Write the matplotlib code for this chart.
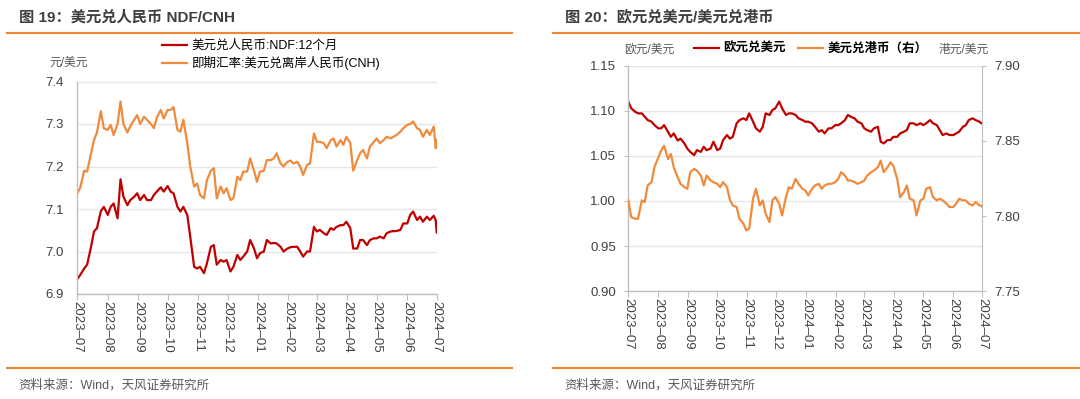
import matplotlib
matplotlib.use("Agg")
import matplotlib.pyplot as plt
from matplotlib.lines import Line2D
import numpy as np
import pandas as pd

plt.rcParams['font.family'] = ['Liberation Sans', 'Noto Sans CJK SC']
plt.rcParams['axes.unicode_minus'] = False

# sample dates (shared by both panels)
dates = ["2023-07-01", "2023-07-04", "2023-07-08", "2023-07-11", "2023-07-15", "2023-07-18", "2023-07-21", "2023-07-25", "2023-07-28",
         "2023-08-01", "2023-08-04", "2023-08-07", "2023-08-11", "2023-08-14", "2023-08-17", "2023-08-21", "2023-08-24", "2023-08-28", "2023-08-31",
         "2023-09-03", "2023-09-07", "2023-09-10", "2023-09-14", "2023-09-17", "2023-09-20", "2023-09-24", "2023-09-27",
         "2023-10-01", "2023-10-04", "2023-10-07", "2023-10-11", "2023-10-14", "2023-10-17", "2023-10-21", "2023-10-24", "2023-10-28", "2023-10-31",
         "2023-11-03", "2023-11-07", "2023-11-10", "2023-11-14", "2023-11-17", "2023-11-20", "2023-11-24", "2023-11-27", "2023-11-30",
         "2023-12-04", "2023-12-07", "2023-12-11", "2023-12-14", "2023-12-17", "2023-12-21", "2023-12-24", "2023-12-28", "2023-12-31",
         "2024-01-03", "2024-01-07", "2024-01-10", "2024-01-14", "2024-01-17", "2024-01-20", "2024-01-24", "2024-01-27", "2024-01-31",
         "2024-02-03", "2024-02-06", "2024-02-10", "2024-02-13", "2024-02-16", "2024-02-20", "2024-02-23", "2024-02-27",
         "2024-03-01", "2024-03-04", "2024-03-08", "2024-03-11", "2024-03-15", "2024-03-18", "2024-03-21", "2024-03-25", "2024-03-28", "2024-03-31",
         "2024-04-04", "2024-04-07", "2024-04-11", "2024-04-14", "2024-04-17", "2024-04-21", "2024-04-24", "2024-04-28",
         "2024-05-01", "2024-05-04", "2024-05-08", "2024-05-11", "2024-05-15", "2024-05-18", "2024-05-21", "2024-05-25", "2024-05-28",
         "2024-06-01", "2024-06-04", "2024-06-07", "2024-06-11", "2024-06-14", "2024-06-17", "2024-06-21", "2024-06-24", "2024-06-28",
         "2024-06-30", "2024-07-01"]

# 图19: 美元兑人民币 NDF 12个月 / CNH
ndf = [6.935, 6.945, 6.96, 6.969, 7.011, 7.047, 7.055, 7.095, 7.105, 7.086,
       7.105, 7.113, 7.078, 7.17, 7.129, 7.109, 7.121, 7.129, 7.137, 7.121,
       7.133, 7.121, 7.121, 7.133, 7.141, 7.151, 7.141, 7.154, 7.141, 7.137,
       7.105, 7.094, 7.105, 7.086, 7.035, 6.964, 6.960, 6.964, 6.949, 6.972,
       7.011, 7.015, 6.969, 6.98, 6.976, 6.98, 6.953, 6.964, 6.992, 6.98,
       6.988, 7.0, 7.027, 7.007, 6.984, 6.996, 7.0, 7.027, 7.019, 7.02,
       7.019, 7.011, 7.0, 7.007, 7.01, 7.011, 7.011, 7.0, 6.988, 7.0,
       7.0, 7.058, 7.047, 7.051, 7.043, 7.039, 7.055, 7.051, 7.058, 7.062,
       7.062, 7.07, 7.055, 7.007, 7.007, 7.027, 7.027, 7.015, 7.027, 7.031,
       7.031, 7.035, 7.031, 7.043, 7.047, 7.048, 7.048, 7.051, 7.066, 7.066,
       7.086, 7.094, 7.074, 7.082, 7.07, 7.082, 7.074, 7.084, 7.074, 7.045]
cnh = [7.137, 7.15, 7.19, 7.188, 7.231, 7.262, 7.28, 7.33, 7.29, 7.286,
       7.298, 7.274, 7.30, 7.353, 7.30, 7.28, 7.295, 7.31, 7.321, 7.30,
       7.317, 7.31, 7.30, 7.29, 7.315, 7.333, 7.313, 7.333, 7.333, 7.34,
       7.286, 7.282, 7.31, 7.255, 7.20, 7.153, 7.16, 7.133, 7.125, 7.168,
       7.19, 7.196, 7.125, 7.153, 7.137, 7.149, 7.121, 7.125, 7.176, 7.168,
       7.188, 7.188, 7.219, 7.19, 7.164, 7.188, 7.19, 7.215, 7.215, 7.219,
       7.231, 7.207, 7.20, 7.211, 7.214, 7.207, 7.211, 7.20, 7.18, 7.204,
       7.207, 7.278, 7.258, 7.258, 7.255, 7.243, 7.262, 7.266, 7.247, 7.262,
       7.251, 7.27, 7.255, 7.19, 7.215, 7.231, 7.239, 7.219, 7.247, 7.258,
       7.266, 7.255, 7.262, 7.27, 7.266, 7.27, 7.274, 7.282, 7.29, 7.298,
       7.30, 7.306, 7.29, 7.286, 7.27, 7.286, 7.274, 7.294, 7.243, 7.262]

# 图20: 欧元兑美元 / 美元兑港币(右)
eur = [1.110, 1.1026, 1.0989, 1.097, 1.097, 1.0933, 1.0896, 1.0878, 1.084, 1.0804,
       1.0804, 1.084, 1.0767, 1.071, 1.0748, 1.067, 1.069, 1.0637, 1.058, 1.0544,
       1.0507, 1.0563, 1.0544, 1.06, 1.0563, 1.058, 1.0656, 1.0563, 1.058, 1.0674,
       1.073, 1.069, 1.071, 1.086, 1.0896, 1.0915, 1.0896, 1.097, 1.0878, 1.0804,
       1.0767, 1.0822, 1.097, 1.0952, 1.1007, 1.1026, 1.11, 1.1026, 1.0952, 1.097,
       1.097, 1.0952, 1.0915, 1.0896, 1.0878, 1.0878, 1.086, 1.0822, 1.0767, 1.0785,
       1.0748, 1.0804, 1.0804, 1.084, 1.084, 1.086, 1.0896, 1.0952, 1.0933, 1.0915,
       1.0878, 1.086, 1.0804, 1.0785, 1.0767, 1.0804, 1.0822, 1.0656, 1.0637, 1.0674,
       1.0674, 1.071, 1.071, 1.0748, 1.0767, 1.0785, 1.086, 1.086, 1.084, 1.086,
       1.084, 1.086, 1.0896, 1.086, 1.084, 1.0785, 1.073, 1.0748, 1.073, 1.073,
       1.0748, 1.0767, 1.0822, 1.084, 1.0896, 1.0915, 1.0896, 1.0878, 1.086, 1.086]
hkd = [7.8104, 7.7993, 7.7982, 7.7982, 7.8104, 7.8093, 7.8203, 7.8225, 7.8324, 7.839,
       7.8434, 7.8467, 7.8379, 7.8412, 7.8324, 7.8258, 7.8214, 7.8192, 7.8181, 7.8291,
       7.8313, 7.8302, 7.8269, 7.8203, 7.8269, 7.8236, 7.8225, 7.8214, 7.8192, 7.8225,
       7.8192, 7.811, 7.807, 7.806, 7.798, 7.795, 7.7905, 7.7916, 7.8115, 7.8181,
       7.807, 7.8104, 7.8015, 7.796, 7.8104, 7.8126, 7.8082, 7.8004, 7.8126, 7.8192,
       7.8181, 7.8247, 7.8214, 7.8181, 7.817, 7.8137, 7.8181, 7.8203, 7.8214, 7.8181,
       7.8203, 7.8214, 7.8214, 7.8225, 7.8247, 7.8291, 7.8269, 7.8236, 7.8236, 7.8225,
       7.8214, 7.8225, 7.8236, 7.8269, 7.8291, 7.8302, 7.8324, 7.8368, 7.8291, 7.8324,
       7.8357, 7.8335, 7.8247, 7.8126, 7.8159, 7.8203, 7.8115, 7.8104, 7.8004, 7.8104,
       7.8115, 7.8181, 7.8192, 7.8126, 7.8104, 7.8115, 7.8104, 7.8082, 7.806, 7.806,
       7.8082, 7.8115, 7.8104, 7.8104, 7.8082, 7.807, 7.8093, 7.807, 7.807, 7.806]

month_ticks = ["2023-07", "2023-08", "2023-09", "2023-10", "2023-11", "2023-12", "2024-01",
               "2024-02", "2024-03", "2024-04", "2024-05", "2024-06", "2024-07"]

RED = '#C00000'
ORANGE = '#F08A3C'
SEP = '#F0862F'
GRID = '#E6E6E6'
SPINE = '#BFBFBF'
TXT = '#404040'

x = pd.to_datetime(dates)
tick_pos = pd.to_datetime(month_ticks)
tick_lab = [m.replace('-', '–') for m in month_ticks]

fig = plt.figure(figsize=(10.8, 3.99), dpi=100)
W, H = 1080, 399


def style_axes(ax):
    ax.set_xlim(tick_pos[0], tick_pos[-1])
    ax.set_xticks(tick_pos)
    ax.set_xticklabels(tick_lab, rotation=270, fontsize=9.5, color=TXT)
    ax.tick_params(axis='x', direction='out', length=4, width=0.8, color=SPINE, pad=1)
    ax.grid(axis='y', color=GRID, linewidth=1)
    ax.set_axisbelow(True)
    for s in ['top', 'right']:
        ax.spines[s].set_visible(False)
    for s in ['left', 'bottom']:
        ax.spines[s].set_color(SPINE)
        ax.spines[s].set_linewidth(1)


# ---- left panel ----
axl = fig.add_axes([77.3 / W, 1 - 294 / H, 359.4 / W, 212.5 / H])
l1, = axl.plot(x, ndf, color=RED, lw=1.6, label='美元兑人民币:NDF:12个月')
l2, = axl.plot(x, cnh, color=ORANGE, lw=1.6, label='即期汇率:美元兑离岸人民币(CNH)')
style_axes(axl)
axl.set_ylim(6.9, 7.4)
axl.set_yticks([6.9, 7.0, 7.1, 7.2, 7.3, 7.4])
axl.set_yticklabels(['6.9', '7.0', '7.1', '7.2', '7.3', '7.4'], fontsize=9.5, color=TXT)
axl.tick_params(axis='y', length=0, pad=10)

fig.legend(handles=[l1, l2], loc='center left', bbox_to_anchor=(162 / W, 1 - 55 / H),
           frameon=False, fontsize=9, handlelength=2.0, handletextpad=0.35,
           labelspacing=0.3, borderpad=0, borderaxespad=0)
fig.text(69 / W, 1 - 63 / H, '元/美元', fontsize=8.5, color='#595959', ha='center', va='center')

# ---- right panel ----
axr = fig.add_axes([628.3 / W, 1 - 291.3 / H, 354 / W, 225.8 / H])
r1, = axr.plot(x, eur, color=RED, lw=1.6, label='欧元兑美元')
style_axes(axr)
axr.set_ylim(0.90, 1.15)
axr.set_yticks([0.90, 0.95, 1.00, 1.05, 1.10, 1.15])
axr.set_yticklabels(['0.90', '0.95', '1.00', '1.05', '1.10', '1.15'], fontsize=9.5, color=TXT)
axr.tick_params(axis='y', length=3, color=SPINE, pad=6)

axr2 = axr.twinx()
r2, = axr2.plot(x, hkd, color=ORANGE, lw=1.6, label='美元兑港币（右）')
axr2.set_ylim(7.75, 7.90)
axr2.set_yticks([7.75, 7.80, 7.85, 7.90])
axr2.set_yticklabels(['7.75', '7.80', '7.85', '7.90'], fontsize=9.5, color=TXT)
axr2.tick_params(axis='y', length=3, color=SPINE, pad=6)
for s in ['top', 'left', 'bottom']:
    axr2.spines[s].set_visible(False)
axr2.spines['right'].set_color(SPINE)
axr2.set_xlim(tick_pos[0], tick_pos[-1])

fig.legend(handles=[r1, r2], loc='center left', bbox_to_anchor=(694 / W, 1 - 49 / H), ncol=2,
           frameon=False, prop={'size': 9, 'weight': 'bold'}, handlelength=2.0,
           handletextpad=0.35, columnspacing=1.0, borderpad=0, borderaxespad=0)
fig.text(649 / W, 1 - 50 / H, '欧元/美元', fontsize=8.5, color='#595959', ha='center', va='center')
fig.text(964 / W, 1 - 50 / H, '港元/美元', fontsize=8.5, color='#595959', ha='center', va='center')

# ---- titles, separators, sources ----
fig.text(19 / W, 1 - 17 / H, '图 19：美元兑人民币 NDF/CNH', fontsize=11, fontweight='bold',
         color='#3F3F3F', ha='left', va='center')
fig.text(565 / W, 1 - 17 / H, '图 20：欧元兑美元/美元兑港币', fontsize=11, fontweight='bold',
         color='#3F3F3F', ha='left', va='center')
for x0, x1 in [(7, 512), (553, 1080)]:
    for yy in [33, 368]:
        fig.add_artist(Line2D([x0 / W, x1 / W], [1 - yy / H, 1 - yy / H], color=SEP, lw=1.5))
fig.text(18 / W, 1 - 385 / H, '资料来源：Wind，天风证券研究所', fontsize=9, color='#595959',
         ha='left', va='center')
fig.text(564 / W, 1 - 385 / H, '资料来源：Wind，天风证券研究所', fontsize=9, color='#595959',
         ha='left', va='center')

fig.savefig('out.png', dpi=100, facecolor='white')
